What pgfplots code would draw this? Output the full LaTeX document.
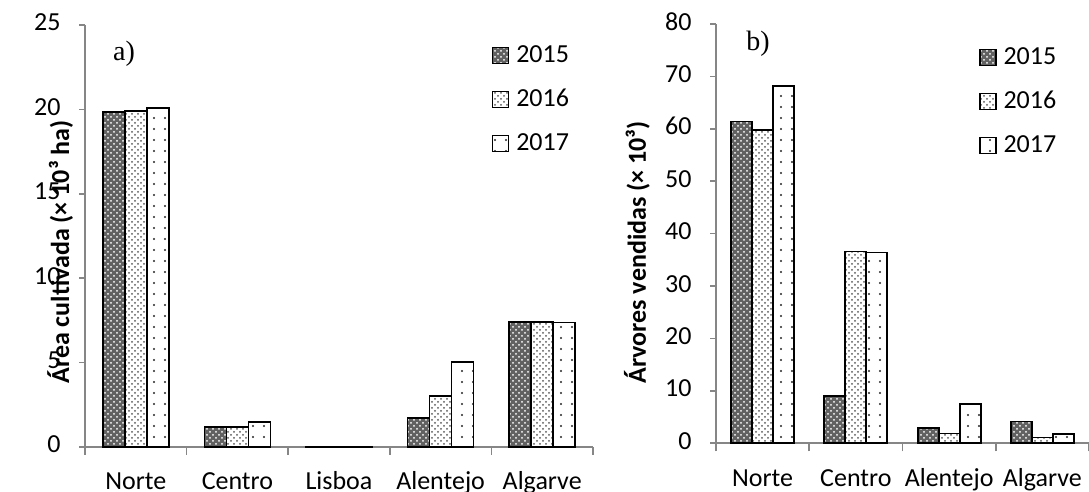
\documentclass[border=0pt]{standalone}
\usepackage{pgfplots}
\pgfplotsset{compat=1.18}
\usepackage{fontspec}
\setmainfont{Carlito}
\newfontfamily\tnr{Liberation Serif}
\usetikzlibrary{patterns,patterns.meta}
\definecolor{axgray}{RGB}{134,134,134}

\pgfplotsset{
  mybars/.style={
    scale only axis,
    ybar=0pt,
    legend image code/.code={\draw[#1, line width=0.6pt] (0pt,-4pt) rectangle (8pt,4pt);},
    axis x line*=bottom, axis y line*=left,
    axis line style={axgray, line width=0.8pt, -},
    tick style={axgray, line width=0.8pt},
    tick align=outside,
    major tick length=3pt,
    minor tick length=4pt,
    major x tick style={draw=none},
    ymin=0,
    xtick={1,2,3,4,5},
    /pgf/number format/assume math mode=true,
    ticklabel style={font=\fontsize{13}{15}\selectfont, text=black},
    typeset ticklabels with strut,
    xticklabel style={yshift=-4pt},
    yticklabel style={xshift=-5.7pt},
    clip=false,
    legend style={draw=none, fill=none, anchor=north west, inner sep=0pt,
      row sep=11pt, nodes={inner sep=0.5pt, font=\fontsize{13}{15}\selectfont},
      /tikz/every odd column/.append style={column sep=3pt}},
    legend cell align=left,
    ylabel style={font=\bfseries\fontsize{13}{15}\selectfont},
  },
  s15/.style={draw=black, line width=0.9pt, fill=black!62, postaction={pattern=crosshatch dots, pattern color=white}},
  s16/.style={draw=black, line width=0.9pt, fill=white, postaction={pattern=crosshatch dots, pattern color=black!65}},
  s17/.style={draw=black, line width=0.9pt, fill=white, postaction={pattern={Dots[distance=5.5pt, radius=0.6pt]}, pattern color=black!85}},
}

\begin{document}
\begin{tikzpicture}
\useasboundingbox (0,0) rectangle (544.5pt,246pt);
% left chart
\begin{axis}[mybars,
  at={(42.5pt,22.5pt)}, anchor=south west,
  width=254pt, height=211pt,
  bar width=11pt,
  xmin=0.5, xmax=5.5, ymax=25,
  ytick={0,5,...,25},
  minor xtick={0.5,1.5,...,5.5},
  xticklabels={Norte,Centro,Lisboa,Alentejo,Algarve},
  ylabel={Área cultivada (× 10³ ha)},
  ylabel style={at={(axis description cs:-0.049,0.462)}, anchor=center, rotate=0},
  legend style={at={(rel axis cs:0.8006,0.955)}},
]
\addplot[s15] coordinates {(1,19.85) (2,1.18) (3,0.03) (4,1.73) (5,7.4)};
\addplot[s16] coordinates {(1,19.9) (2,1.18) (3,0.03) (4,3.03) (5,7.4)};
\addplot[s17] coordinates {(1,20.1) (2,1.48) (3,0.03) (4,5.05) (5,7.37)};
\legend{2015,2016,2017}
\node[font=\tnr\fontsize{14}{16}\selectfont] at (rel axis cs:0.077,0.931) {a)};
\end{axis}
% right chart
\begin{axis}[mybars,
  at={(358pt,24.35pt)}, anchor=south west,
  width=186.5pt, height=209.65pt,
  bar width=10.5pt,
  xmin=0.5, xmax=4.5, ymax=80,
  ytick={0,10,...,80},
  minor xtick={0.5,1.5,...,4.5},
  xticklabels={Norte,Centro,Alentejo,Algarve},
  xticklabel style={yshift=-0.5pt},
  ylabel={Árvores vendidas (× 10³)},
  ylabel style={at={(axis description cs:-0.212,0.455)}, anchor=center, rotate=0},
  legend style={at={(rel axis cs:0.705,0.948)}},
]
\addplot[s15] coordinates {(1,61.4) (2,9.1) (3,2.85) (4,4.15)};
\addplot[s16] coordinates {(1,59.8) (2,36.6) (3,1.85) (4,1.1)};
\addplot[s17] coordinates {(1,68.2) (2,36.4) (3,7.55) (4,1.7)};
\legend{2015,2016,2017}
\node[font=\tnr\fontsize{14}{16}\selectfont] at (rel axis cs:0.113,0.954) {b)};
\end{axis}
\end{tikzpicture}
\end{document}
